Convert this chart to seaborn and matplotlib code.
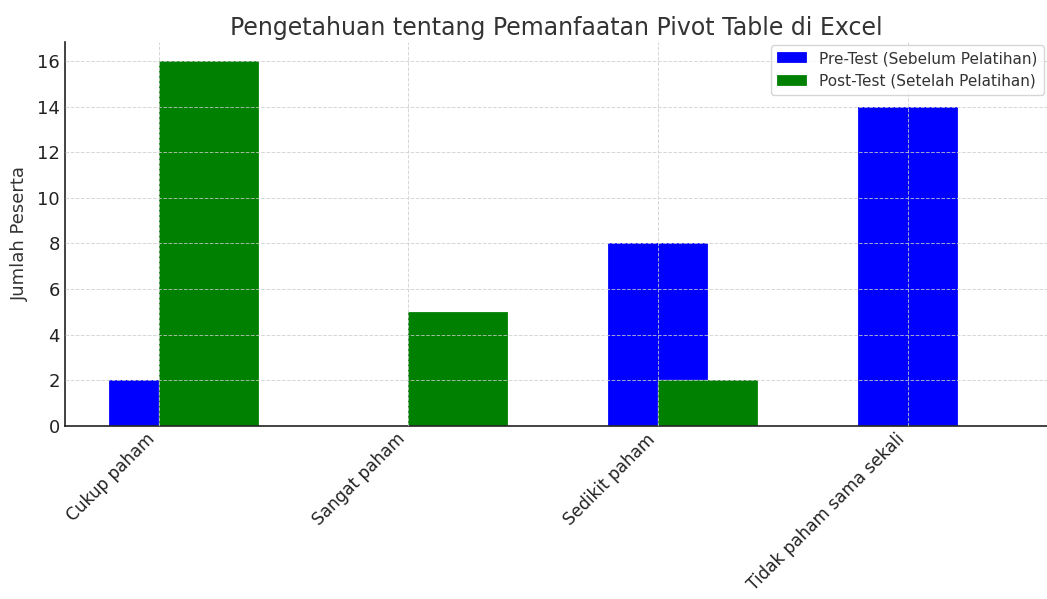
import numpy as np
import matplotlib
matplotlib.use("Agg")
import matplotlib.pyplot as plt
import seaborn as sns

categories = ["Cukup paham", "Sangat paham", "Sedikit paham", "Tidak paham sama sekali"]
pre_test = [2, 0, 8, 14]
post_test = [16, 5, 2, 0]
pre_label = "Pre-Test (Sebelum Pelatihan)"
post_label = "Post-Test (Setelah Pelatihan)"
title = "Pengetahuan tentang Pemanfaatan Pivot Table di Excel"
ylabel = "Jumlah Peserta"

sns.set_theme(style="white")
plt.rcParams['font.family'] = ['DejaVu Sans']
plt.rcParams['text.color'] = '#333333'
plt.rcParams['axes.labelcolor'] = '#333333'
plt.rcParams['xtick.color'] = '#222222'
plt.rcParams['ytick.color'] = '#222222'

fig = plt.figure(figsize=(10.47, 5.99), dpi=100)
ax = fig.add_axes([0.062, 0.289, 0.938, 0.641])

idx = np.arange(len(categories))
sns.barplot(x=idx.astype(float), y=pre_test, native_scale=True, width=0.4,
            color="blue", saturation=1, label=pre_label, ax=ax,
            edgecolor="white", linewidth=0.15)
sns.barplot(x=idx + 0.2, y=post_test, native_scale=True, width=0.4,
            color="green", saturation=1, label=post_label, ax=ax,
            edgecolor="white", linewidth=0.15)

ax.set_xticks(idx)
ax.set_xticklabels(categories, rotation=45, ha="right", fontsize=12.2)
ax.set_xlim(-0.375, 3.556)
ax.set_ylim(0, 16.84)
ax.set_yticks(np.arange(0, 17, 2))
ax.tick_params(axis='y', labelsize=13, direction='in', length=4, width=1)
ax.tick_params(axis='x', direction='in', length=4, width=1, pad=3)
ax.set_ylabel(ylabel, fontsize=13, labelpad=6)
ax.set_xlabel("")
ax.set_title(title, fontsize=17, color='#333333', pad=5)

ax.grid(True, linestyle='--', color='#cccccc', linewidth=0.7, alpha=0.8)
ax.set_axisbelow(False)
for s in ['top', 'right']:
    ax.spines[s].set_visible(False)
for s in ['left', 'bottom']:
    ax.spines[s].set_color('#222222')
    ax.spines[s].set_linewidth(1.2)

leg = ax.legend(loc='upper right', fontsize=11, frameon=True, fancybox=True,
                framealpha=0.8, edgecolor='#cccccc', borderaxespad=0.2)

fig.savefig("out.png", dpi=100)
